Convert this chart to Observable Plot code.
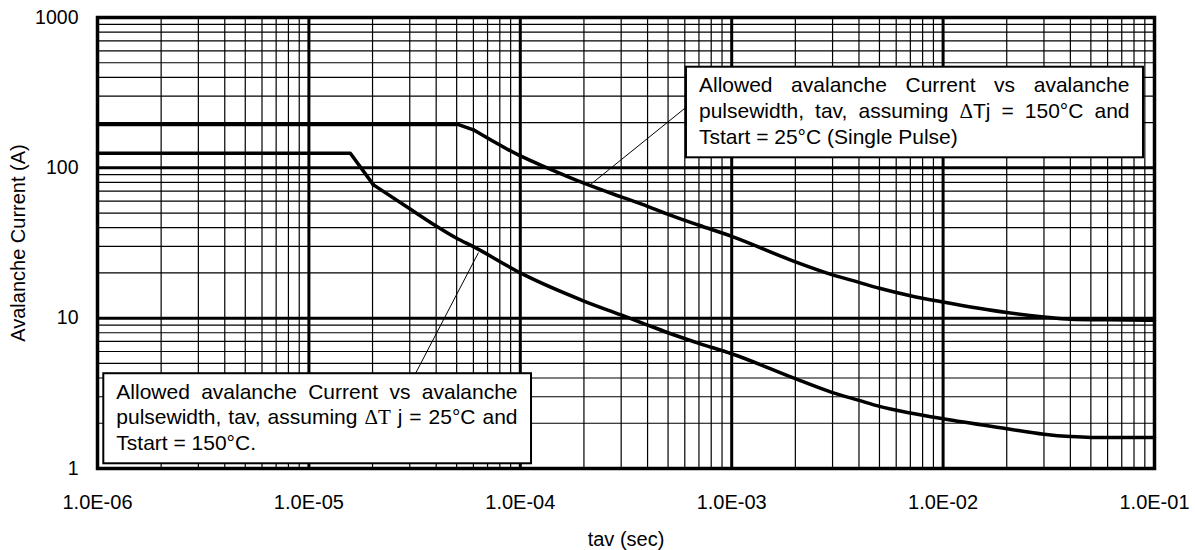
<!DOCTYPE html>
<html><head><meta charset="utf-8">
<script src="https://cdn.jsdelivr.net/npm/d3@7"></script>
<script src="https://cdn.jsdelivr.net/npm/@observablehq/plot@0.6"></script>
<style>
body{margin:0;background:#fff;}
#chart svg{font-family:"Liberation Sans",Arial,Helvetica,sans-serif;background:#fff;}
</style></head><body><div id="chart"></div>
<script>
// ---- data ----
const xTicks = [1e-6, 1e-5, 1e-4, 1e-3, 1e-2, 1e-1];
const xTickLabels = ["1.0E-06", "1.0E-05", "1.0E-04", "1.0E-03", "1.0E-02", "1.0E-01"];
const yTicks = [1, 10, 100, 1000];
const yTickLabels = ["1", "10", "100", "1000"];

// ΔTj = 150°C, Tstart = 25°C (single pulse)
const upperX = [1e-6, 5.1e-5, 6.0e-5, 1e-4, 1.34e-4, 2e-4, 3e-4, 4e-4, 5e-4, 7e-4, 1e-3, 2e-3, 3e-3, 4e-3, 5e-3, 7e-3, 1e-2, 2e-2, 3e-2, 4e-2, 6e-2, 1e-1];
const upperY = [194, 194, 179, 120, 100, 79, 64, 55.5, 49, 41.5, 35, 23.7, 19.4, 17.3, 15.8, 14.1, 12.8, 10.9, 10.2, 9.85, 9.75, 9.7];

// ΔTj = 25°C, Tstart = 150°C
const lowerX = [1e-6, 1.57e-5, 2.02e-5, 3e-5, 4e-5, 5e-5, 6e-5, 1e-4, 2e-4, 3e-4, 4e-4, 5e-4, 7e-4, 1e-3, 2e-3, 3e-3, 4e-3, 5e-3, 7e-3, 1e-2, 2e-2, 3e-2, 4e-2, 5e-2, 1e-1];
const lowerY = [125, 125, 77, 53.4, 41, 34, 29.9, 20, 13, 10.5, 9.0, 8.0, 6.8, 5.8, 3.96, 3.2, 2.84, 2.59, 2.34, 2.14, 1.84, 1.69, 1.63, 1.61, 1.61];

const upperNote = ["Allowed avalanche Current vs avalanche", "pulsewidth, tav, assuming ΔTj = 150°C and", "Tstart = 25°C (Single Pulse)"];
const lowerNote = ["Allowed avalanche Current vs avalanche", "pulsewidth, tav, assuming ΔT j = 25°C and", "Tstart = 150°C."];

// annotation anchors in data units
const upperBox = {x1: 6.11e-4, x2: 8.87e-2, y1: 116.6, y2: 467};
const lowerBox = {x1: 1.071e-6, x2: 1.13e-4, y1: 1.075, y2: 4.27};
const leaders = [
  {x1: 2.15e-4, y1: 77.5, x2: 6.11e-4, y2: 254},
  {x1: 6.34e-5, y1: 27.3, x2: 3.19e-5, y2: 4.27}
];

const xTitle = "tav (sec)";
const yTitle = "Avalanche Current (A)";

// ---- derived ----
const upper = upperX.map((x, i) => ({x, y: upperY[i]}));
const lower = lowerX.map((x, i) => ({x, y: lowerY[i]}));
// sharp knee part (linear) and smooth tail part (from the knee on)
const upperKnee = upper.slice(0, 3), upperTail = upper.slice(2);
const lowerKnee = lower.slice(0, 3), lowerTail = lower.slice(2);
const minorX = d3.range(-6, -1).flatMap(e => d3.range(2, 10).map(m => m * Math.pow(10, e)));
const minorY = d3.range(0, 3).flatMap(e => d3.range(2, 10).map(m => m * Math.pow(10, e)));

const FS = 21, PADL = 12.5, PADR = 14;
const curveStyle = {x: "x", y: "y", stroke: "#000", strokeWidth: 3.5, strokeLinejoin: "round", strokeLinecap: "round"};

const plot = Plot.plot({
  width: 1195,
  height: 550,
  marginLeft: 97,
  marginRight: 41,
  marginTop: 17,
  marginBottom: 82,
  x: {type: "log", domain: [1e-6, 1e-1]},
  y: {type: "log", domain: [1, 1000]},
  marks: [
    Plot.ruleX(minorX, {stroke: "#000", strokeWidth: 1.2}),
    Plot.ruleY(minorY, {stroke: "#000", strokeWidth: 1.2}),
    Plot.ruleX(xTicks, {stroke: "#000", strokeWidth: 3}),
    Plot.ruleY(yTicks, {stroke: "#000", strokeWidth: 3}),
    Plot.line(upperKnee, {...curveStyle, curve: "linear"}),
    Plot.line(upperTail, {...curveStyle, curve: "monotone-x"}),
    Plot.line(lowerKnee, {...curveStyle, curve: "linear"}),
    Plot.line(lowerTail, {...curveStyle, curve: "monotone-x"}),
    Plot.link(leaders, {x1: "x1", y1: "y1", x2: "x2", y2: "y2", stroke: "#000", strokeWidth: 1}),
    Plot.rect([upperBox, lowerBox], {x1: "x1", x2: "x2", y1: "y1", y2: "y2", fill: "#fff", stroke: "#000", strokeWidth: 2}),
    Plot.text([upperBox], {x: "x1", y: "y2", text: () => upperNote.join("\n"), textAnchor: "start", lineAnchor: "top", dx: PADL, dy: 6.7, fontSize: FS, lineHeight: 26 / FS, fill: "#000"}),
    Plot.text([lowerBox], {x: "x1", y: "y2", text: () => lowerNote.join("\n"), textAnchor: "start", lineAnchor: "top", dx: PADL, dy: 6.7, fontSize: FS, lineHeight: 25.5 / FS, fill: "#000"}),
    Plot.frame({stroke: "#000", strokeWidth: 3.5}),
    Plot.axisX(xTicks, {tickSize: 0, tickPadding: 26, tickFormat: d => xTickLabels[xTicks.indexOf(d)], fontSize: 20, label: null}),
    Plot.axisY(yTicks, {tickSize: 0, tickPadding: 19, tickFormat: d => yTickLabels[yTicks.indexOf(d)], fontSize: 19.5, label: null}),
    Plot.text([yTitle], {text: d => d, frameAnchor: "left", rotate: -90, dx: -79, fontSize: 20, textAnchor: "middle", lineAnchor: "middle", fill: "#000"}),
    Plot.text([xTitle], {text: d => d, frameAnchor: "bottom", dy: 70.6, fontSize: 20, textAnchor: "middle", lineAnchor: "middle", fill: "#000"})
  ]
});

document.getElementById("chart").append(plot);

// ---- post-process annotation text: serif delta and justified lines ----
const xs = plot.scale("x");
function finishNote(lines, box) {
  const el = Array.from(plot.querySelectorAll("text")).find(t => t.textContent.includes(lines[2]));
  if (!el) return;
  const tspans = Array.from(el.querySelectorAll("tspan"));
  const target = xs.apply(box.x2) - xs.apply(box.x1) - PADL - PADR;
  tspans.forEach((ts, i) => {
    const s = ts.textContent;
    const m = s.match(/ΔT(?= )|Δ/);
    if (m) {
      ts.textContent = s.slice(0, m.index);
      const sp = document.createElementNS("http://www.w3.org/2000/svg", "tspan");
      sp.setAttribute("font-family", "'Liberation Serif','Times New Roman',serif");
      sp.textContent = m[0];
      ts.appendChild(sp);
      ts.appendChild(document.createTextNode(s.slice(m.index + m[0].length)));
    }
    if (i < 2) {
      const natural = ts.getComputedTextLength();
      const gaps = (s.match(/ /g) || []).length;
      if (gaps > 0 && target > natural) ts.setAttribute("word-spacing", ((target - natural) / gaps).toFixed(2));
    }
  });
}
finishNote(upperNote, upperBox);
finishNote(lowerNote, lowerBox);
</script>
</body></html>
